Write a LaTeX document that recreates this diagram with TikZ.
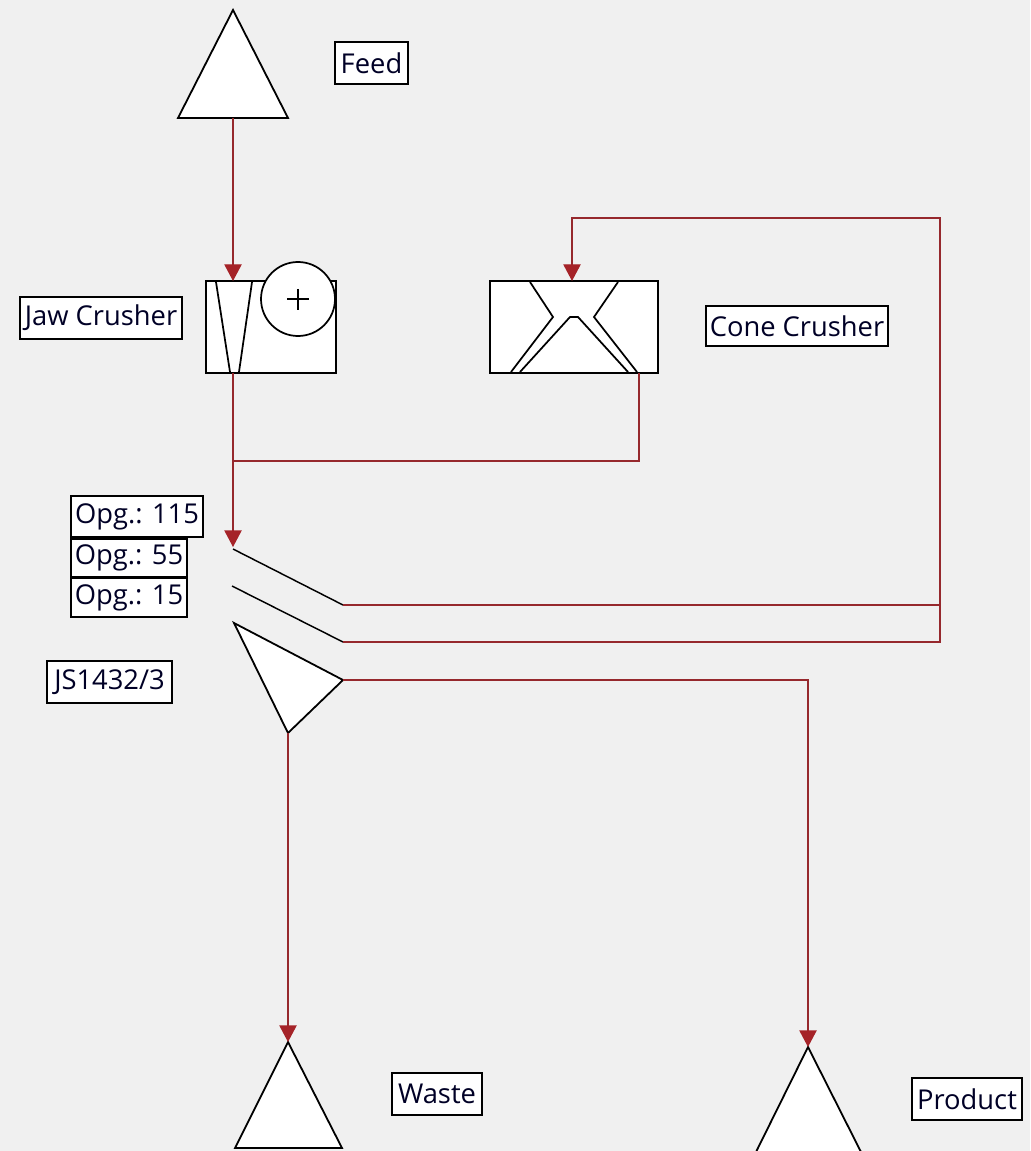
\documentclass[tikz,border=0pt]{standalone}
\usepackage{fontspec}
\setmainfont{Open Sans}
\usetikzlibrary{arrows.meta}
\definecolor{bg}{RGB}{240,240,240}
\definecolor{flow}{RGB}{150,40,45}
\definecolor{tip}{RGB}{165,35,40}
\begin{document}
\begin{tikzpicture}[x=0.75pt,y=-0.75pt,
  shapeline/.style={draw=black,line width=1.35pt,fill=white,line join=miter},
  inner/.style={draw=black,line width=1.3pt},
  flowline/.style={draw=flow,line width=1pt},
  flowarrow/.style={flowline,-{Triangle[width=13pt,length=12.5pt,color=tip]}},
  deck/.style={draw=black,line width=1.1pt},
  lbl/.style={draw=black,line width=1.35pt,fill=white,inner sep=0pt,
    font=\fontsize{20.5}{24}\selectfont,text=black!85!blue}]
\useasboundingbox (0,0) rectangle (1030,1151);
\fill[bg] (0,0) rectangle (1030,1151);
\clip (0,0) rectangle (1030,1151);

% ---- key points ----
\coordinate (feedtop) at (233,10);
\coordinate (feedout) at (233,118);
\coordinate (jawin) at (233,281);
\coordinate (jawout) at (233,373);
\coordinate (conein) at (572,281);
\coordinate (coneout) at (639,373);
\coordinate (join) at (233,461);
\coordinate (conedown) at (639,461);
\coordinate (screenin) at (233,547);
\coordinate (d1a) at (233,549);
\coordinate (d1b) at (343,605);
\coordinate (d1c) at (940,605);
\coordinate (d2a) at (232,586);
\coordinate (d2b) at (343,642);
\coordinate (d2c) at (940,642);
\coordinate (rtop) at (940,218);
\coordinate (ctop) at (572,218);
\coordinate (s1) at (234,623);
\coordinate (sright) at (343,680);
\coordinate (sbottom) at (288,733);
\coordinate (pcorner) at (808,680);
\coordinate (prodin) at (808,1047);
\coordinate (wastein) at (288,1042);

% ---- Feed ----
\draw[shapeline] (feedtop) -- (288,118) -- (178,118) -- cycle;
\node[lbl,minimum width=54.75pt,minimum height=31.5pt] (lfeed) at (371.5,63) {Feed};

% ---- Jaw crusher ----
\draw[shapeline] (206,281) rectangle (336,373);
\draw[inner] (216,282) -- (230,372);
\draw[inner] (252,282) -- (239,372);
\draw[inner,fill=white] (298,299) circle[radius=27.75pt];
\draw[inner] (287,299) -- (309,299) (298,289) -- (298,310);
\node[lbl,minimum width=121.5pt,minimum height=31.5pt] (ljaw) at (101,318) {Jaw Crusher};

% ---- Cone crusher ----
\draw[shapeline] (490,281) rectangle (658,373);
\draw[inner] (530,282) -- (553,317) -- (511,372);
\draw[inner] (520,372) -- (570,317) -- (578,317) -- (628,372);
\draw[inner] (618,282) -- (594,317) -- (637,372);
\node[lbl,minimum width=136.5pt,minimum height=30pt] (lcone) at (797,326) {Cone Crusher};

% ---- Screen ----
\draw[deck] (d1a) -- (d1b);
\draw[deck] (d2a) -- (d2b);
\draw[shapeline] (s1) -- (sright) -- (sbottom) -- cycle;
\node[lbl,minimum width=99pt,minimum height=30.75pt] (l115) at (137,516.5) {Opg.: 115};
\node[lbl,minimum width=87pt,minimum height=28.5pt] (l55) at (129,558) {Opg.: 55};
\node[lbl,minimum width=87pt,minimum height=29.25pt] (l15) at (129,597.5) {Opg.: 15};
\node[lbl,minimum width=93.75pt,minimum height=31.5pt] (ljs) at (109.5,682) {JS1432/3};

% ---- Waste / Product ----
\draw[shapeline] (wastein) -- (342,1148) -- (235,1148) -- cycle;
\node[lbl,minimum width=67.5pt,minimum height=31.5pt] (lwaste) at (437,1094) {Waste};
\draw[shapeline] (prodin) -- (862,1154) -- (755,1154) -- cycle;
\node[lbl,minimum width=82.5pt,minimum height=31.5pt] (lprod) at (967,1099) {Product};

% ---- flows ----
\draw[flowarrow] (feedout) -- (jawin);
\draw[flowarrow] (jawout) -- (screenin);
\draw[flowline] (coneout) -- (conedown) -- (join);
\draw[flowline] (d1b) -- (d1c);
\draw[flowarrow] (d2b) -- (d2c) -- (rtop) -- (ctop) -- (conein);
\draw[flowarrow] (sright) -- (pcorner) -- (prodin);
\draw[flowarrow] (sbottom) -- (wastein);
\end{tikzpicture}
\end{document}
